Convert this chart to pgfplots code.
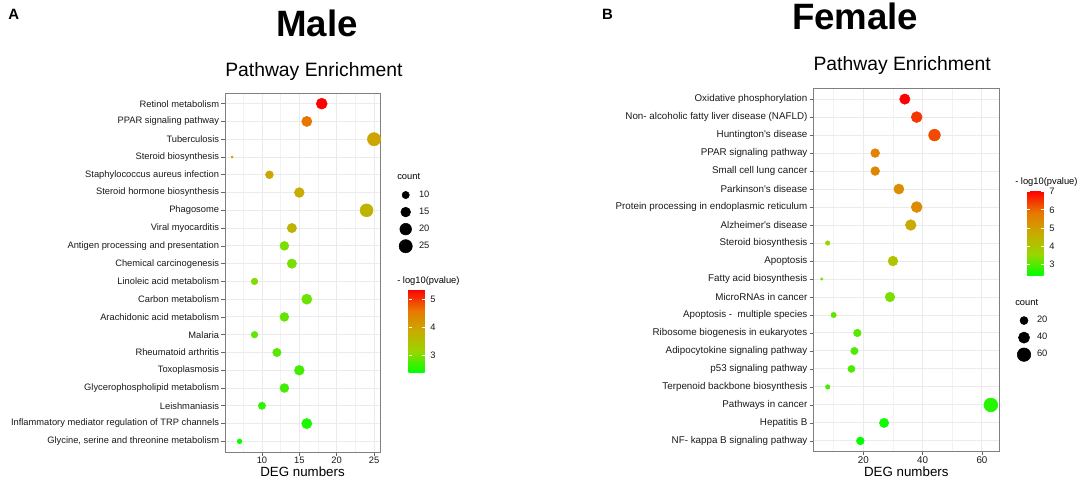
\documentclass[border=0pt]{standalone}
\usepackage{fontspec}
\setmainfont{Liberation Sans}
\usepackage{pgfplots}
\usepackage{pgfplotstable}
\pgfplotsset{compat=1.18}

% idx = row from top, cnt = DEG numbers, lp = -log10(pvalue)
\pgfplotstableread{
idx cnt lp
1  18 5.35
2  16 4.60
3  25 3.95
4  6  3.95
5  11 3.90
6  15 3.85
7  24 3.70
8  14 3.70
9  13 2.97
10 14 2.95
11 9  3.00
12 16 2.90
13 13 2.85
14 9  2.85
15 12 2.80
16 15 2.70
17 13 2.70
18 10 2.60
19 16 2.50
20 7  2.37
}\maledata

\pgfplotstableread{
idx cnt lp
1  34 7.04
2  38 6.50
3  44 6.30
4  24 5.60
5  24 5.55
6  32 5.35
7  38 5.40
8  36 4.70
9  8  3.50
10 30 4.10
11 6  3.20
12 29 3.30
13 10 3.10
14 18 3.05
15 17 3.00
16 16 2.95
17 8  2.90
18 63 2.65
19 27 2.50
20 19 2.37
}\femaledata

\def\smallfont{\fontsize{7}{8.4}\selectfont}
\def\fsmallfont{\fontsize{7.35}{8.8}\selectfont}

\pgfplotsset{
  enrich/.style={
    scale only axis, anchor=south west,
    /pgf/number format/assume math mode=true,
    y dir=reverse, ymin=0.4, ymax=20.6, ytick={1,...,20},
    axis line style={black!50, line width=0.6pt},
    tick style={black!60, line width=0.5pt},
    tick align=outside, major tick length=2.75pt, minor tick length=0pt,
    xtick pos=bottom, ytick pos=left,
    xmajorgrids, ymajorgrids, xminorgrids,
    major grid style={black!8, line width=0.7pt},
    minor grid style={black!5, line width=0.35pt},
    ticklabel style={font=\smallfont, text=black!90},
    yticklabel style={inner sep=1.5pt},
    xticklabel style={inner sep=1pt},
    xlabel={DEG numbers},
    xlabel style={at={(axis description cs:0.5,0)}, anchor=base, yshift=-18.5pt,
      font=\fontsize{10}{12}\selectfont},
    title={Pathway Enrichment},
    title style={at={(axis description cs:0,1)}, anchor=base west, inner sep=0pt,
      font=\fontsize{14.5}{17}\selectfont},
    colormap={gr}{rgb255=(0,255,0) rgb255=(152,215,0) rgb255=(201,171,0)
      rgb255=(232,118,0) rgb255=(255,0,0)},
    colorbar,
    legend image code/.code={
      \path[draw=none, fill=none] (-6pt,-6.4pt) rectangle (6pt,6.4pt);
      \draw[##1] plot coordinates {(0pt,0pt)};},
    legend cell align=left,
  },
  cbar/.style={
    /pgf/number format/assume math mode=true,
    ytick pos=both, yticklabel pos=right,
    tick align=inside, major tick length=2.4pt,
    tick style={white, line width=0.6pt},
    axis line style={draw=none},
    yticklabel style={font=\smallfont, text=black!90, inner sep=0pt, xshift=4pt},
  },
  dots/.style={
    scatter, only marks, mark=*, scatter src=explicit, forget plot,
    scatter/use mapped color={draw=mapped color, fill=mapped color},
    scatter/@pre marker code/.append style={/tikz/mark size=\rad},
  },
}

\begin{document}
\begin{tikzpicture}
\path[use as bounding box] (0,0) rectangle (813pt,361.5pt);

% ---------------- Male ----------------
\begin{axis}[enrich,
  at={(168.75pt,22.5pt)}, width=116.25pt, height=269.25pt,
  xmin=5.05, xmax=25.8,
  xtick={10,15,20,25}, minor xtick={7.5,12.5,17.5,22.5},
  title style={yshift=6.5pt},
  yticklabels={Retinol metabolism, PPAR signaling pathway, Tuberculosis,
    Steroid biosynthesis, Staphylococcus aureus infection,
    Steroid hormone biosynthesis, Phagosome, Viral myocarditis,
    Antigen processing and presentation, Chemical carcinogenesis,
    Linoleic acid metabolism, Carbon metabolism, Arachidonic acid metabolism,
    Malaria, Rheumatoid arthritis, Toxoplasmosis,
    Glycerophospholipid metabolism, Leishmaniasis,
    Inflammatory mediator regulation of TRP channels,
    {Glycine, serine and threonine metabolism}},
  point meta min=2.37, point meta max=5.35,
  colorbar style={cbar, at={(parent axis.north east)}, anchor=north west,
    xshift=13pt, yshift=-147.2pt, width=12pt, height=62.55pt, ytick={3,4,5}},
  legend style={at={(1.1142,0.7396)}, anchor=north west, draw=none, fill=none,
    inner sep=0pt, outer sep=0pt, row sep=0pt, column sep=4pt,
    nodes={inner sep=0pt, font=\smallfont, text=black!90}},
]
\addplot[dots, visualization depends on={0.825*(1+5*sqrt((\thisrow{cnt}-6)/19)) \as \rad}]
  table[x=cnt, y=idx, meta=lp] {\maledata};
\addlegendimage{only marks, mark=*, black, mark size=2.72pt}\addlegendentry{10}
\addlegendimage{only marks, mark=*, black, mark size=3.66pt}\addlegendentry{15}
\addlegendimage{only marks, mark=*, black, mark size=4.37pt}\addlegendentry{20}
\addlegendimage{only marks, mark=*, black, mark size=4.95pt}\addlegendentry{25}
\end{axis}

% ---------------- Female ----------------
\begin{axis}[enrich,
  at={(609.98pt,22.73pt)}, width=139.5pt, height=272.55pt,
  xmin=3.15, xmax=65.85,
  xtick={20,40,60}, minor xtick={10,30,50},
  ticklabel style={font=\fsmallfont},
  title style={yshift=7pt},
  yticklabels={Oxidative phosphorylation,
    Non- alcoholic fatty liver disease (NAFLD),
    Huntington\textquotesingle s disease, PPAR signaling pathway,
    Small cell lung cancer, Parkinson\textquotesingle s disease,
    Protein processing in endoplasmic reticulum,
    Alzheimer\textquotesingle s disease, Steroid biosynthesis, Apoptosis,
    Fatty acid biosynthesis, MicroRNAs in cancer,
    Apoptosis -\ \ multiple species, Ribosome biogenesis in eukaryotes,
    Adipocytokine signaling pathway, p53 signaling pathway,
    Terpenoid backbone biosynthesis, Pathways in cancer, Hepatitis B,
    NF- kappa B signaling pathway},
  point meta min=2.37, point meta max=7.04,
  colorbar style={cbar, at={(parent axis.north east)}, anchor=north west,
    xshift=12.3pt, yshift=-77pt, width=12.45pt, height=63.5pt, ytick={3,4,5,6,7}},
  legend style={at={(1.0898,0.3844)}, anchor=north west, draw=none, fill=none,
    inner sep=0pt, outer sep=0pt, row sep=0pt, column sep=3.75pt,
    nodes={inner sep=0pt, font=\smallfont, text=black!90}},
]
\addplot[dots, visualization depends on={0.8625*(1+5*sqrt((\thisrow{cnt}-6)/57)) \as \rad}]
  table[x=cnt, y=idx, meta=lp] {\femaledata};
\addlegendimage{only marks, mark=*, black, mark size=3.0pt}\addlegendentry{20}
\addlegendimage{only marks, mark=*, black, mark size=4.19pt}\addlegendentry{40}
\addlegendimage{only marks, mark=*, black, mark size=5.06pt}\addlegendentry{60}
\end{axis}

% legend titles
\node[anchor=base west, inner sep=0pt, font=\smallfont] at (297.75pt,226.5pt) {count};
\node[anchor=base west, inner sep=0pt, font=\smallfont] at (297.75pt,148.5pt) {- log10(pvalue)};
\node[anchor=base west, inner sep=0pt, font=\smallfont] at (761.25pt,222.75pt) {- log10(pvalue)};
\node[anchor=base west, inner sep=0pt, font=\smallfont] at (761.25pt,132pt) {count};

% panel headings
\node[anchor=base west, inner sep=0pt, font=\fontsize{11.2}{13}\selectfont\bfseries] at (6pt,346.5pt) {A};
\node[anchor=base west, inner sep=0pt, font=\fontsize{11.2}{13}\selectfont\bfseries] at (451.3pt,346.5pt) {B};
\node[anchor=base west, inner sep=0pt, font=\fontsize{27.5}{32}\selectfont\bfseries] at (207pt,334pt) {Male};
\node[anchor=base west, inner sep=0pt, font=\fontsize{27.5}{32}\selectfont\bfseries] at (593.8pt,339.5pt) {Female};
\end{tikzpicture}
\end{document}
